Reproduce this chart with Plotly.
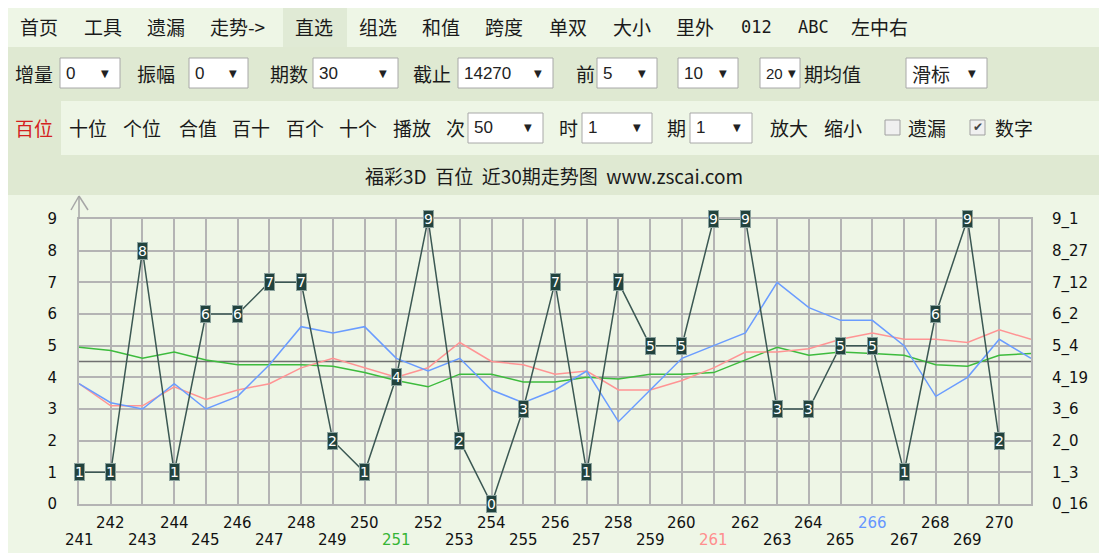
import plotly.graph_objects as go

# ---------------- data ----------------
periods = [241, 242, 243, 244, 245, 246, 247, 248, 249, 250,
           251, 252, 253, 254, 255, 256, 257, 258, 259, 260,
           261, 262, 263, 264, 265, 266, 267, 268, 269, 270]
ma_periods = [241, 242, 243, 244, 245, 246, 247, 248, 249, 250,
              251, 252, 253, 254, 255, 256, 257, 258, 259, 260,
              261, 262, 263, 264, 265, 266, 267, 268, 269, 270, 271]
hundreds = [1, 1, 8, 1, 6, 6, 7, 7, 2, 1,
            4, 9, 2, 0, 3, 7, 1, 7, 5, 5,
            9, 9, 3, 3, 5, 5, 1, 6, 9, 2]
ma5 = [3.8, 3.2, 3.0, 3.8, 3.0, 3.4, 4.4, 5.6, 5.4, 5.6,
       4.6, 4.2, 4.6, 3.6, 3.2, 3.6, 4.2, 2.6, 3.6, 4.6,
       5.0, 5.4, 7.0, 6.2, 5.8, 5.8, 5.0, 3.4, 4.0, 5.2, 4.6]
ma10 = [3.8, 3.1, 3.1, 3.7, 3.3, 3.6, 3.8, 4.3, 4.6, 4.3,
        4.0, 4.3, 5.1, 4.5, 4.4, 4.1, 4.2, 3.6, 3.6, 3.9,
        4.3, 4.8, 4.8, 4.9, 5.2, 5.4, 5.2, 5.2, 5.1, 5.5, 5.2]
ma20 = [4.95, 4.85, 4.6, 4.8, 4.55, 4.4, 4.4, 4.4, 4.35, 4.15,
        3.9, 3.7, 4.1, 4.1, 3.85, 3.85, 4.0, 3.95, 4.1, 4.1,
        4.15, 4.55, 4.95, 4.7, 4.8, 4.75, 4.7, 4.4, 4.35, 4.7, 4.75]
mean_value = 4.5
digits = [0, 1, 2, 3, 4, 5, 6, 7, 8, 9]
miss_labels = ["0_16", "1_3", "2_0", "3_6", "4_19", "5_4", "6_2", "7_12", "8_27", "9_1"]
label_colors = {251: "#35B535", 261: "#FF8E8E", 266: "#6696FF"}

title_text = "福彩3D\u00a0\u00a0百位\u00a0\u00a0近30期走势图\u00a0\u00a0www.zscai.com"
menu_row1 = ["首页", "工具", "遗漏", "走势->", "直选", "组选", "和值", "跨度",
             "单双", "大小", "里外", "012", "ABC", "左中右"]
row2_labels = ["增量", "振幅", "期数", "截止", "前", "期均值"]
row2_values = ["0", "0", "30", "14270", "5", "10", "20", "滑标"]
row3_labels = ["百位", "十位", "个位", "合值", "百十", "百个", "十个", "播放",
               "次", "时", "期", "放大", "缩小", "遗漏", "数字"]
row3_values = ["50", "1", "1"]

# ---------------- layout helpers (page pixel positions of decoration) ----------------
OFF = 8                      # browser body margin
FW, FH = 1107 - OFF, 553 - OFF
L, R, T, B = 79, 1031, 219, 504   # plot area in page pixels
W, H = R - L, B - T
def px(x): return (x - L) / W
def py(y): return (B - y) / H

PALE = "#EEF6E6"
DARK = "#DFE9D2"
CJK = "Noto Sans CJK SC"
LAT = "Liberation Sans"

shapes, annos = [], []

def rect(x0, y0, x1, y1, fill, line=None, lw=0, layer="below"):
    shapes.append(dict(type="rect", xref="paper", yref="paper",
                       x0=px(x0), x1=px(x1), y0=py(y1), y1=py(y0),
                       fillcolor=fill, line=dict(color=line or "rgba(0,0,0,0)", width=lw),
                       layer=layer))

def seg(x0, y0, x1, y1, color, w):
    shapes.append(dict(type="line", xref="paper", yref="paper",
                       x0=px(x0), x1=px(x1), y0=py(y0), y1=py(y1),
                       line=dict(color=color, width=w), layer="above"))

def text(s, x, y, size=19, color="#1a1a1a", anchor="left", family=CJK):
    annos.append(dict(text=s, xref="paper", yref="paper", x=px(x), y=py(y),
                      xanchor=anchor, yanchor="middle", showarrow=False,
                      font=dict(size=size, color=color, family=family)))

# backgrounds
rect(283, 8, 347, 47, "#E0EAD5")
rect(0, 47, 1107, 101, DARK)
rect(0, 101, 61, 155, DARK)
rect(0, 155, 1107, 195, DARK)

# row 1 menu
row1_x = [18, 82, 145, 208, 293, 357, 420, 483, 547, 611, 674, 739, 796, 849]
for s, x in zip(menu_row1, row1_x):
    if s.isascii() and s != "走势->":
        text(s, x, 27, size=17, family="DejaVu Sans Mono")
    else:
        text(s, x, 27)

# select boxes
def select(x0, x1, y0, y1, val):
    rect(x0, y0, x1, y1, "white", "#A8A8A8", 1, layer="above")
    narrow = (x1 - x0) <= 50
    fam = CJK if not val.isascii() else LAT
    size = (15 if narrow else 17) if val.isascii() else 19
    text(val, x0 + 4, (y0 + y1) / 2, size=size, color="#222", family=fam)
    ax = x1 - 8 if narrow else x1 - 15
    text("▼", ax, (y0 + y1) / 2, size=10, color="#222", anchor="center", family="DejaVu Sans")

row2_label_x = [13, 135, 268, 411, 574, 802]
for s, x in zip(row2_labels, row2_label_x):
    text(s, x, 73)
row2_box_x = [(60, 120), (189, 248), (313, 398), (458, 553), (597, 657), (678, 738), (760, 800), (906, 987)]
for (x0, x1), v in zip(row2_box_x, row2_values):
    select(x0, x1, 58, 88, v)

row3_label_x = [13, 67, 121, 177, 230, 284, 337, 391, 444, 557, 665, 768, 822, 906, 993]
for s, x in zip(row3_labels, row3_label_x):
    text(s, x, 128, color="#D42020" if s == "百位" else "#1a1a1a")
row3_box_x = [(468, 543), (582, 652), (690, 752)]
for (x0, x1), v in zip(row3_box_x, row3_values):
    select(x0, x1, 113, 143, v)
# checkboxes
rect(885, 120, 900, 135, "#F0F0F0", "#A0A0A0", 1, layer="above")
rect(970, 120, 985, 135, "#F0F0F0", "#A0A0A0", 1, layer="above")
text("✔", 977.5, 127.5, size=12, color="#444", anchor="center", family="DejaVu Sans")

# title row
text(title_text, 554, 175, size=19, anchor="center")

# axis arrow
seg(79, 219, 79, 197, "#A6A6A6", 1.5)
seg(79, 196, 71, 210, "#A6A6A6", 1.5)
seg(79, 196, 88, 210, "#A6A6A6", 1.5)

# x labels (two staggered rows)
for p in periods:
    annos.append(dict(text=str(p), xref="x", yref="paper", x=p,
                      y=py(523) if p % 2 == 0 else py(540),
                      xanchor="center", yanchor="middle", showarrow=False,
                      font=dict(size=15, color=label_colors.get(p, "#111"), family="DejaVu Sans")))

# digit boxes
for p, v in zip(periods, hundreds):
    annos.append(dict(text=str(v), xref="x", yref="y", x=p, y=v, showarrow=False,
                      xanchor="center", yanchor="middle",
                      bgcolor="#22433E", bordercolor="#8CA39E", borderwidth=1, borderpad=0,
                      font=dict(size=14, color="white", family="DejaVu Sans")))

# ---------------- figure ----------------
fig = go.Figure()
fig.add_trace(go.Scatter(x=[ma_periods[0], ma_periods[-1]], y=[mean_value, mean_value],
                         mode="lines", line=dict(color="#707070", width=1.5), showlegend=False))
fig.add_trace(go.Scatter(x=ma_periods, y=ma20, mode="lines",
                         line=dict(color="#3DBB3D", width=1.5), showlegend=False))
fig.add_trace(go.Scatter(x=ma_periods, y=ma10, mode="lines",
                         line=dict(color="#FF9494", width=1.5), showlegend=False))
fig.add_trace(go.Scatter(x=ma_periods, y=ma5, mode="lines",
                         line=dict(color="#6A9CFF", width=1.5), showlegend=False))
fig.add_trace(go.Scatter(x=periods, y=hundreds, mode="lines+markers",
                         line=dict(color="#3B5853", width=1.5),
                         marker=dict(symbol="square", size=10, color="#22433E"),
                         cliponaxis=False, showlegend=False))
fig.add_trace(go.Scatter(x=periods, y=hundreds, yaxis="y2", mode="markers",
                         marker=dict(opacity=0), hoverinfo="skip", showlegend=False))

grid = "#B4B4B4"
fig.update_layout(
    width=FW, height=FH,
    margin=dict(l=L - OFF, r=1107 - R, t=T - OFF, b=553 - B, pad=0),
    paper_bgcolor=PALE, plot_bgcolor=PALE,
    xaxis=dict(range=[ma_periods[0], ma_periods[-1]], tick0=ma_periods[0], dtick=1,
               showticklabels=False, showgrid=True, gridcolor=grid, gridwidth=2,
               zeroline=False, showline=True, mirror=True, linecolor=grid, linewidth=2,
               fixedrange=True),
    yaxis=dict(range=[0, 9], tickvals=digits, ticktext=[str(d) for d in digits],
               ticks="outside", ticklen=17, tickcolor="rgba(0,0,0,0)",
               tickfont=dict(size=15, color="#111", family="DejaVu Sans"),
               showgrid=True, gridcolor=grid, gridwidth=2, zeroline=False,
               showline=True, mirror=True, linecolor=grid, linewidth=2, fixedrange=True),
    yaxis2=dict(range=[0, 9], overlaying="y", side="right", tickvals=digits, ticktext=miss_labels,
                ticks="outside", ticklen=17, tickcolor="rgba(0,0,0,0)",
                tickfont=dict(size=15, color="#111", family="DejaVu Sans"),
                showgrid=False, zeroline=False, showline=False, fixedrange=True),
    shapes=shapes,
    annotations=annos,
)

fig.write_html("out.html")
